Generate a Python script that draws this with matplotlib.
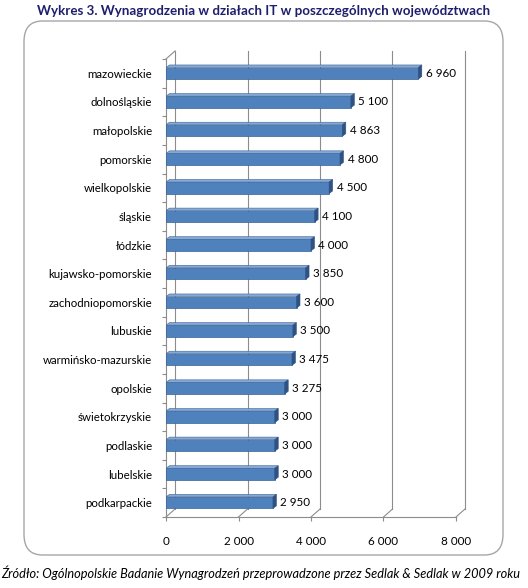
import matplotlib.pyplot as plt
from matplotlib.patches import FancyBboxPatch, Polygon

plt.rcParams["font.family"] = ["Lato", "DejaVu Sans"]

# ── data ─────────────────────────────────────────────────────────────────────
regions = [
    "mazowieckie", "dolnośląskie", "małopolskie", "pomorskie",
    "wielkopolskie", "śląskie", "łódzkie", "kujawsko-pomorskie",
    "zachodniopomorskie", "lubuskie", "warmińsko-mazurskie", "opolskie",
    "świetokrzyskie", "podlaskie", "lubelskie", "podkarpackie",
]
salaries = [6960, 5100, 4863, 4800, 4500, 4100, 4000, 3850,
            3600, 3500, 3475, 3275, 3000, 3000, 3000, 2950]
xticks = [0, 2000, 4000, 6000, 8000]

title = "Wykres 3. Wynagrodzenia w działach IT w poszczególnych województwach"
source = ("Źródło: Ogólnopolskie Badanie Wynagrodzeń przeprowadzone przez "
          "Sedlak & Sedlak w 2009 roku")

# ── colours / geometry ───────────────────────────────────────────────────────
c_front = "#4F81BD"
c_top = "#86A8D6"
c_side = "#2F5283"
c_edge = "#3A6397"
c_grid = "#8C8C8C"

W, H = 528, 588
fig = plt.figure(figsize=(W / 100, H / 100), dpi=100)

# rounded chart frame
frame = FancyBboxPatch(
    (24 / W, 1 - 555 / H), (503 - 24) / W, (555 - 21) / H,
    boxstyle="round,pad=0,rounding_size=0.035",
    transform=fig.transFigure, facecolor="white", edgecolor="#A6A6A6", lw=1,
    zorder=-5,
)
fig.patches.append(frame)

ax = fig.add_axes([166 / W, 1 - 517 / H, (456 - 166) / W, (517 - 59) / H])
ax.set_zorder(2)
ax.set_facecolor("none")
n = len(regions)
ax.set_xlim(0, 8000)
ax.set_ylim(n - 0.5, -0.5)

# depth of the 3D walls and bars, in data units
px_x = 8000 / 290
px_y = n / 458
dx, dy = 9 * px_x, 8 * px_y
bdx, bdy = 3.5 * px_x, 2.6 * px_y
h = 11.5 * px_y

# back wall gridlines and floor diagonals
top, bot = -0.5, n - 0.5
for t in xticks:
    ax.plot([t + dx, t + dx], [top - dy, bot - dy], color=c_grid, lw=0.8,
            clip_on=False, zorder=1)
    ax.plot([t, t + dx], [bot, bot - dy], color=c_grid, lw=0.8,
            clip_on=False, zorder=1)
ax.plot([0, dx], [top, top - dy], color=c_grid, lw=0.8, clip_on=False,
        zorder=1)

# bars with top and side faces
ypos = list(range(n))
ax.barh(ypos, salaries, height=h, color=c_front, edgecolor=c_edge, lw=0.5,
        zorder=3)
for y, v in zip(ypos, salaries):
    y0, y1 = y - h / 2, y + h / 2
    ax.add_patch(Polygon(
        [(0, y0), (v, y0), (v + bdx, y0 - bdy), (bdx, y0 - bdy)],
        closed=True, facecolor=c_top, edgecolor=c_edge, lw=0.4, zorder=3,
    ))
    ax.add_patch(Polygon(
        [(v, y0), (v, y1), (v + bdx, y1 - bdy), (v + bdx, y0 - bdy)],
        closed=True, facecolor=c_side, edgecolor=c_side, lw=0.4, zorder=3,
    ))
    ax.annotate(f"{v:,}".replace(",", " "), (v + bdx, y),
                xytext=(4, 0), textcoords="offset pixels",
                ha="left", va="center", fontsize=8.4, color="black")

# axes
for s in ("top", "right"):
    ax.spines[s].set_visible(False)
for s in ("left", "bottom"):
    ax.spines[s].set_color(c_grid)
    ax.spines[s].set_linewidth(0.8)

ax.set_yticks(ypos)
ax.set_yticklabels(regions, fontsize=8.3)
ax.set_yticks([y - 0.5 for y in range(n + 1)], minor=True)
ax.tick_params(axis="y", which="major", length=0, pad=10)
ax.tick_params(axis="y", which="minor", length=3, color=c_grid, width=0.8)

ax.set_xticks(xticks)
ax.set_xticklabels([f"{t:,}".replace(",", " ") for t in xticks], fontsize=8.4)
ax.tick_params(axis="x", length=3, color=c_grid, width=0.8, pad=11)

fig.text(0.5, 1 - 11 / H, title, ha="center", va="center",
         fontsize=9.6, fontweight="bold", color="#1E1E6E")
fig.text(0.002, 1 - 573 / H, source, ha="left", va="center",
         fontsize=9.2, style="italic", color="black")

fig.savefig("out.png", dpi=100)
